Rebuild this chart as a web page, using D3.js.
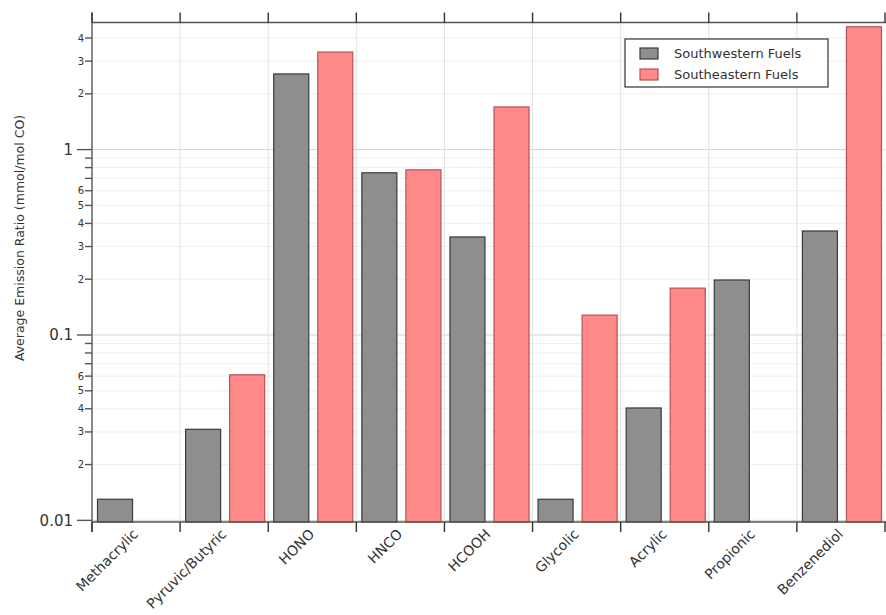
<!DOCTYPE html>
<html><head><meta charset="utf-8">
<script src="https://cdn.jsdelivr.net/npm/d3@7"></script>
<style>body{margin:0;background:#fff}svg{display:block}text{font-family:"DejaVu Sans",sans-serif;fill:#333}</style>
</head><body><svg id="c" width="886" height="615"></svg>
<script>
const categories = ["Methacrylic","Pyruvic/Butyric","HONO","HNCO","HCOOH","Glycolic","Acrylic","Propionic","Benzenediol"];
const seriesNames = ["Southwestern Fuels","Southeastern Fuels"];
const southwestern = [0.013, 0.031, 2.56, 0.75, 0.338, 0.013, 0.0404, 0.198, 0.364];
const southeastern = [null, 0.061, 3.36, 0.778, 1.70, 0.128, 0.179, null, 4.6];
const majorTicks = [0.01, 0.1, 1];
const minorLabeled = [2,3,4,5,6];
const yTitle = "Average Emission Ratio (mmol/mol CO)";

const svg = d3.select("#c");
const L = 92, R = 885, T = 22.5, B = 522;
const x = d3.scaleBand().domain(categories).range([L, R]).paddingInner(0).paddingOuter(0);
const xs = d3.scaleBand().domain(seriesNames).range([0, x.bandwidth()]);
const y = d3.scaleLog().domain([0.0098, 4.85]).range([B, T]);
const colors = {"Southwestern Fuels": {fill:"#8e8e8e", stroke:"#3a3a3a"}, "Southeastern Fuels": {fill:"#ff8888", stroke:"#b85252"}};

const allTicks = [];
[0.001,0.01,0.1,1,10].forEach(d => { for (let k=1;k<10;k++){ const v=d*k; if (v>=0.0098 && v<=4.85) allTicks.push(v);} });

const g = svg.append("g");
g.selectAll("line.hg").data(allTicks).join("line")
  .attr("x1", L).attr("x2", R).attr("y1", d=>y(d)).attr("y2", d=>y(d))
  .attr("stroke", d => majorTicks.includes(+d.toPrecision(3)) ? "#d4d4d4" : "#efefef").attr("stroke-width",1);
const bounds = categories.map(c => x(c)).concat([R]);
g.selectAll("line.vg").data(bounds.slice(1, -1)).join("line")
  .attr("x1", d=>d).attr("x2", d=>d).attr("y1", T).attr("y2", B)
  .attr("stroke", "#e2e2e2").attr("stroke-width",1);

const rows = [];
categories.forEach((c,i) => {
  rows.push({cat:c, s:seriesNames[0], v:southwestern[i]});
  rows.push({cat:c, s:seriesNames[1], v:southeastern[i]});
});
const barW = xs.bandwidth()*0.795;
const barOff = xs.bandwidth()*0.125;
svg.append("g").selectAll("rect").data(rows.filter(r=>r.v!=null)).join("rect")
  .attr("x", d => x(d.cat) + xs(d.s) + barOff)
  .attr("width", barW)
  .attr("y", d => y(d.v))
  .attr("height", d => B - y(d.v))
  .attr("fill", d => colors[d.s].fill)
  .attr("stroke", d => colors[d.s].stroke)
  .attr("stroke-width", 1.2);

const ax = svg.append("g").attr("stroke", "#555").attr("stroke-width", 1.4);
ax.append("line").attr("x1", L).attr("x2", R+1).attr("y1", T).attr("y2", T);
ax.append("line").attr("x1", L).attr("x2", R+1).attr("y1", B).attr("y2", B);
ax.append("line").attr("x1", L).attr("x2", L).attr("y1", T-10).attr("y2", B+10);
ax.selectAll("line.tt").data(bounds).join("line")
  .attr("x1", d=>d).attr("x2", d=>d).attr("y1", T-10).attr("y2", T).attr("stroke","#333");
ax.selectAll("line.bt").data(bounds).join("line")
  .attr("x1", d=>d).attr("x2", d=>d).attr("y1", B).attr("y2", B+10).attr("stroke","#333");
ax.selectAll("line.yt").data(allTicks).join("line")
  .attr("x1", d => majorTicks.includes(+d.toPrecision(3)) ? L-15 : L-7).attr("x2", L)
  .attr("y1", d=>y(d)).attr("y2", d=>y(d));

const lab = svg.append("g");
lab.selectAll("text.maj").data(majorTicks).join("text")
  .attr("x", L-19).attr("y", d=>y(d)).attr("dy","0.35em").attr("text-anchor","end")
  .attr("font-size", 15).text(d => String(d));
const minorVals = allTicks.filter(v => { const m = +(v / Math.pow(10, Math.floor(Math.log10(v)+1e-9))).toFixed(3); return minorLabeled.includes(m); });
lab.selectAll("text.min").data(minorVals).join("text")
  .attr("x", L-8).attr("y", d=>y(d)).attr("dy","0.35em").attr("text-anchor","end")
  .attr("font-size", 10).text(d => String(Math.round(d / Math.pow(10, Math.floor(Math.log10(d)+1e-9)))));

svg.append("text").attr("transform", "translate(24,238) rotate(-90)")
  .attr("text-anchor","middle").attr("font-size", 12.5).text(yTitle);

svg.append("g").selectAll("text").data(categories).join("text")
  .attr("transform", d => `translate(${x(d)+x.bandwidth()/2+3},${B+13}) rotate(-45)`)
  .attr("text-anchor","end").attr("font-size", 14).text(d=>d);

const lg = svg.append("g").attr("transform","translate(625,39)");
lg.append("rect").attr("width",203).attr("height",48).attr("fill","#fff").attr("stroke","#333").attr("stroke-width",1.2);
seriesNames.forEach((s,i) => {
  lg.append("rect").attr("x",15).attr("y",9+i*21).attr("width",18).attr("height",11)
    .attr("fill",colors[s].fill).attr("stroke",colors[s].stroke).attr("stroke-width",1.2);
  lg.append("text").attr("x",49).attr("y",19+i*21).attr("font-size",13).text(s);
});
</script></body></html>
